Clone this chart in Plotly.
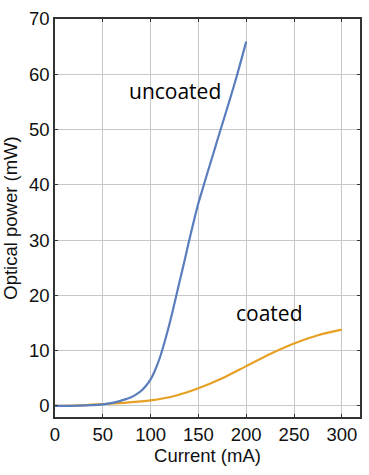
import plotly.graph_objects as go

# Data
uncoated_current = [0, 25, 50, 60, 70, 80, 85, 90, 95, 100, 105, 110, 115, 120, 125, 130, 135, 140, 145, 150, 155, 160, 165, 170, 180, 190, 200]
uncoated_power = [0, 0.05, 0.3, 0.55, 1.0, 1.6, 2.1, 2.7, 3.6, 4.8, 6.6, 8.9, 11.8, 15.0, 18.6, 22.3, 25.9, 29.7, 33.3, 36.7, 39.6, 42.5, 45.3, 48.2, 53.8, 59.6, 65.9]

coated_current = [0, 25, 50, 75, 100, 125, 150, 175, 200, 225, 250, 275, 300]
coated_power = [0, 0.12, 0.35, 0.6, 1.0, 1.8, 3.2, 5.0, 7.2, 9.4, 11.3, 12.8, 13.8]

x_ticks = [0, 50, 100, 150, 200, 250, 300]
y_ticks = [0, 10, 20, 30, 40, 50, 60, 70]

labels = ["uncoated", "coated"]
label_x = [125, 224]
label_y = [56.9, 16.8]

BLUE = "#5A7DBE"
ORANGE = "#E6A024"

fig = go.Figure()
fig.add_trace(go.Scatter(x=coated_current, y=coated_power, mode="lines",
                         line=dict(color=ORANGE, width=2.2, shape="spline", smoothing=0.8),
                         showlegend=False))
fig.add_trace(go.Scatter(x=uncoated_current, y=uncoated_power, mode="lines",
                         line=dict(color=BLUE, width=2.2, shape="spline", smoothing=0.8),
                         showlegend=False))

for t, x, y in zip(labels, label_x, label_y):
    fig.add_annotation(x=x, y=y, text=t, showarrow=False,
                       font=dict(family="Open Sans", size=21, color="#000"),
                       xanchor="center", yanchor="middle")

TXT = dict(family="Liberation Sans", size=18.5, color="#111")

axis_common = dict(
    showgrid=True, gridcolor="#C8C8C8", gridwidth=1,
    showline=True, linecolor="#333333", linewidth=1.5, mirror="ticks",
    ticks="inside", ticklen=3, tickcolor="#333333",
    tickfont=TXT, zeroline=False, automargin=False,
)

fig.update_xaxes(range=[0, 319], tickvals=x_ticks,
                 title=dict(text="Current (mA)", font=TXT, standoff=4),
                 **axis_common)
fig.update_yaxes(range=[-2, 70], tickvals=y_ticks,
                 title=dict(text="Optical power (mW)", font=TXT, standoff=8),
                 **axis_common)

fig.update_layout(
    width=369, height=475,
    margin=dict(l=55, r=9, t=19, b=58),
    plot_bgcolor="white", paper_bgcolor="white",
)

fig.write_html("out.html", config={"displayModeBar": False},
               post_script="document.body.style.margin='0';")
